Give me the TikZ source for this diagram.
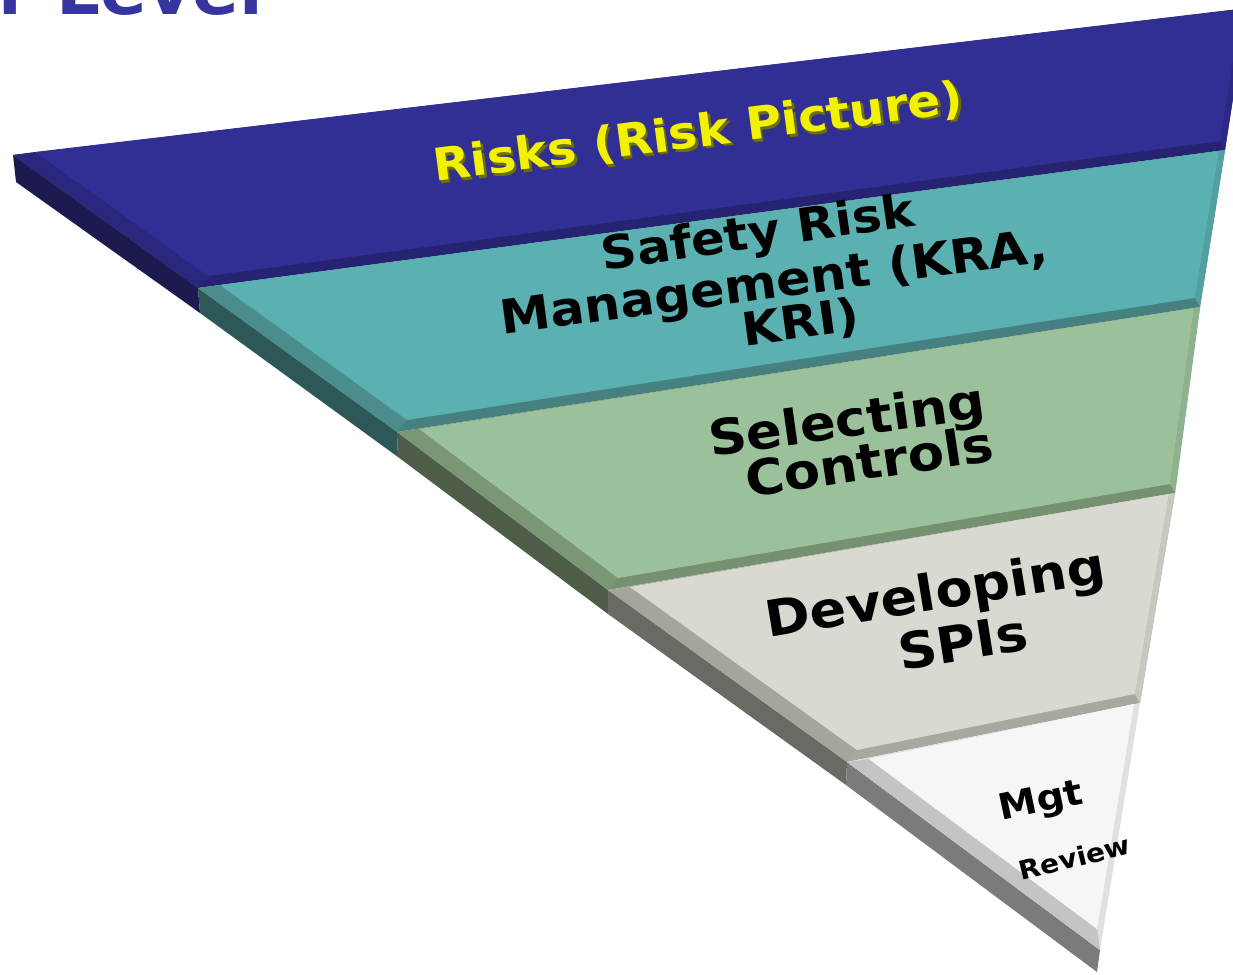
\documentclass[tikz,border=0pt]{standalone}
\usepackage{fontspec}
\usetikzlibrary{calc}
\newfontfamily\lblfont{DejaVu Sans}[FakeStretch=1.08]
\newfontfamily\ttlfont{DejaVu Sans}
\definecolor{titleblue}{HTML}{3535A0}
\definecolor{bmain}{HTML}{322F94}
\definecolor{bbot}{HTML}{262372}
\definecolor{bleft}{HTML}{2A277E}
\definecolor{bright}{HTML}{2C2986}
\definecolor{bside}{HTML}{1C1A4E}
\definecolor{tmain}{HTML}{5BB1B1}
\definecolor{tbot}{HTML}{468080}
\definecolor{tleft}{HTML}{4B8C8C}
\definecolor{tright}{HTML}{52A0A0}
\definecolor{tside}{HTML}{2E5858}
\definecolor{gmain}{HTML}{9AC19A}
\definecolor{gbot}{HTML}{76916F}
\definecolor{gleft}{HTML}{7A9675}
\definecolor{gright}{HTML}{8DB28D}
\definecolor{gside}{HTML}{4D5D48}
\definecolor{smain}{HTML}{D9D9D1}
\definecolor{sbot}{HTML}{A8A8A0}
\definecolor{sleft}{HTML}{A5A59C}
\definecolor{sright}{HTML}{C8C8C0}
\definecolor{sside}{HTML}{6A6A65}
\definecolor{wmain}{HTML}{F6F6F6}
\definecolor{wleft}{HTML}{C4C4C4}
\definecolor{wright}{HTML}{E0E0E0}
\definecolor{wside}{HTML}{7B7B7B}
\definecolor{ytext}{HTML}{F2F200}
\definecolor{yshadow}{HTML}{6E6E08}
\newcommand\drawslab[8]{%
  \fill[#5] (#1) -- (#2) -- (#3) -- (#4) -- cycle;
  \fill[#6] (#1) -- (#4) -- ($(#4)+(10,-12)$) -- ($(#1)+(22,-3)$) -- cycle;
  \fill[#7] (#2) -- (#3) -- ($(#3)+(-5,-9)$) -- ($(#2)+(-6,1)$) -- cycle;
  \fill[#8] ($(#1)+(22,-3)$) -- ($(#2)+(-6,1)$) -- ($(#3)+(-5,-9)$) -- ($(#4)+(10,-12)$) -- cycle;}
\begin{document}
\begin{tikzpicture}[x=1pt,y=-1pt,
  lbl/.style={font=\lblfont\bfseries\fontsize{#1}{#1}\selectfont, anchor=base, inner sep=0pt, text=black}]
\useasboundingbox (0,0) rectangle (1233,974);
\clip (0,0) rectangle (1233,974);
\fill[white] (0,0) rectangle (1233,974);
% corners
\coordinate (b1) at (13,155);
\coordinate (b2) at (1247,8);
\coordinate (b3) at (1225,150);
\coordinate (b4) at (198,288);
\coordinate (t3) at (1200,307);
\coordinate (t4) at (397,432);
\coordinate (g3) at (1175,493);
\coordinate (g4) at (608,590);
\coordinate (s3) at (1140,703);
\coordinate (s4) at (847,762);
\coordinate (tip) at (1100,950);
% side faces
\fill[bside] (b1) -- (b4) -- ($(b4)+(2,25)$) -- ($(b1)+(3,27)$) -- cycle;
\fill[tside] (b4) -- (t4) -- ($(t4)+(1,25)$) -- ($(b4)+(2,25)$) -- cycle;
\fill[gside] (t4) -- (g4) -- ($(g4)+(0,24)$) -- ($(t4)+(1,25)$) -- cycle;
\fill[sside] (g4) -- (s4) -- ($(s4)+(-1,23)$) -- ($(g4)+(0,24)$) -- cycle;
\fill[wside] (s4) -- (tip) -- ($(tip)+(-3,22)$) -- ($(s4)+(-1,23)$) -- cycle;
% top faces
\drawslab{b1}{b2}{b3}{b4}{bbot}{bleft}{bright}{bmain}
\drawslab{b4}{b3}{t3}{t4}{tbot}{tleft}{tright}{tmain}
\drawslab{t4}{t3}{g3}{g4}{gbot}{gleft}{gright}{gmain}
\drawslab{g4}{g3}{s3}{s4}{sbot}{sleft}{sright}{smain}
% white tip
\fill[wright] (s4) -- (s3) -- (tip) -- cycle;
\fill[wleft] (s4) -- (tip) -- ($(tip)+(-3,-21)$) -- ($(s4)+(22,-3)$) -- cycle;
\fill[wmain] ($(s4)+(22,-3)$) -- ($(s3)+(-6,1)$) -- ($(tip)+(-3,-21)$) -- cycle;
% title fragment
\node[font=\ttlfont\bfseries\fontsize{69}{69}\selectfont, text=titleblue, anchor=base east, inner sep=0pt] (title) at (263,15) {r Level};
% labels
\node[lbl=45, text=yshadow, rotate=7.5] (risksh) at (702.5,149.5) {Risks (Risk Picture)};
\node[lbl=45, text=ytext, rotate=7.5] (risks) at (700,147) {Risks (Risk Picture)};
\node[lbl=46, rotate=8.1] (srm1) at (760,248) {Safety Risk};
\node[lbl=47, rotate=7.6] (srm2) at (776,298) {Management (KRA,};
\node[lbl=46, rotate=7.8] (srm3) at (803,338) {KRI)};
\node[lbl=49, rotate=8] (sel1) at (849,437) {Selecting};
\node[lbl=49, rotate=8.6] (sel2) at (872,479) {Controls};
\node[lbl=50, rotate=9.3] (dev1) at (938,610) {Developing};
\node[lbl=50, rotate=9] (dev2) at (966,660) {SPIs};
\node[lbl=36, rotate=12] (mgt1) at (1043,812) {Mgt};
\node[lbl=26, rotate=13.8] (mgt2) at (1077,867) {Review};
\end{tikzpicture}
\end{document}
